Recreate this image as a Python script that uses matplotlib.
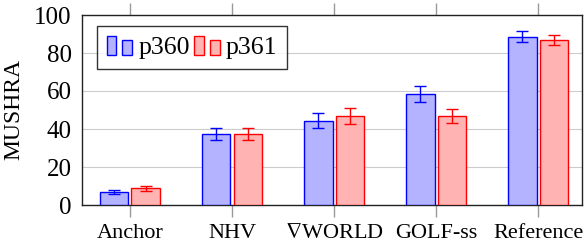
import matplotlib
matplotlib.use("Agg")
import matplotlib.pyplot as plt
import numpy as np
from matplotlib.patches import Rectangle
from matplotlib.legend_handler import HandlerBase

categories = ["Anchor", "NHV", "$\\nabla$WORLD", "GOLF-ss", "Reference"]
p360 = [6.7, 37.5, 44.4, 58.4, 88.6]
p360_err = [1.0, 3.2, 3.8, 4.0, 2.8]
p361 = [8.8, 37.2, 46.8, 46.8, 86.8]
p361_err = [1.2, 3.2, 4.2, 3.9, 2.5]
series_names = ["p360", "p361"]
yticks = [0, 20, 40, 60, 80, 100]

plt.rcParams['font.family'] = ['Liberation Serif', 'DejaVu Serif']
plt.rcParams['mathtext.fontset'] = 'stix'

fig = plt.figure(figsize=(5.88, 2.42), dpi=100)
ax = fig.add_axes([82/588, 1-205/242, 500/588, 190/242])

x = np.arange(len(categories))
w = 0.28
off = 0.155
ax.bar(x - off, p360, w, facecolor=(0.7, 0.7, 1.0), edgecolor="#0000ff", linewidth=1.0, zorder=3)
ax.bar(x + off, p361, w, facecolor=(1.0, 0.7, 0.7), edgecolor="#ff0000", linewidth=1.0, zorder=3)
ax.errorbar(x - off, p360, yerr=p360_err, fmt='none', ecolor="#0000ff", elinewidth=1.0, capsize=4, capthick=1.0, zorder=4)
ax.errorbar(x + off, p361, yerr=p361_err, fmt='none', ecolor="#ff0000", elinewidth=1.0, capsize=4, capthick=1.0, zorder=4)

ax.set_xlim(-0.47, 4.43)
ax.set_ylim(0, 100)
ax.set_xticks(x)
ax.set_xticklabels(categories, fontsize=16)
ax.set_yticks(yticks)
ax.set_yticklabels([str(v) for v in yticks])
ax.tick_params(axis='y', length=0, pad=7.5, labelsize=18)
ax.tick_params(axis='x', direction='out', length=8.4, color='#999999', width=1.0,
               top=True, bottom=True, pad=5.3)
ax.yaxis.grid(True, color='#cccccc', linewidth=0.8, zorder=0)
ax.set_axisbelow(True)
for s in ax.spines.values():
    s.set_color('#222222')
    s.set_linewidth(1.0)
ax.set_ylabel("MUSHRA", fontsize=17)
ax.yaxis.set_label_coords(-58/500, 0.5)


class TwoRectHandler(HandlerBase):
    def __init__(self, fc, ec):
        super().__init__()
        self.fc = fc
        self.ec = ec

    def create_artists(self, legend, orig_handle, xdescent, ydescent, width, height, fontsize, trans):
        rw = width * 0.38
        r1 = Rectangle((-xdescent, -ydescent), rw, height, facecolor=self.fc, edgecolor=self.ec, lw=1.0, transform=trans)
        r2 = Rectangle((-xdescent + width * 0.62, -ydescent), rw, height * 0.76, facecolor=self.fc, edgecolor=self.ec, lw=1.0, transform=trans)
        return [r1, r2]


h1 = Rectangle((0, 0), 1, 1)
h2 = Rectangle((0, 0), 1, 1)
leg = ax.legend([h1, h2], series_names, loc='upper left',
                bbox_to_anchor=(15/500, 1-11/190),
                handler_map={h1: TwoRectHandler((0.7, 0.7, 1.0), "#0000ff"),
                             h2: TwoRectHandler((1.0, 0.7, 0.7), "#ff0000")},
                ncol=2, fontsize=18.5, frameon=True, fancybox=False,
                handlelength=1.0, handleheight=0.82, handletextpad=0.25, columnspacing=0.15,
                borderpad=0.37, borderaxespad=0.0)
leg.get_frame().set_edgecolor('#000000')
leg.get_frame().set_linewidth(1.0)

fig.savefig("out.png", dpi=100)
